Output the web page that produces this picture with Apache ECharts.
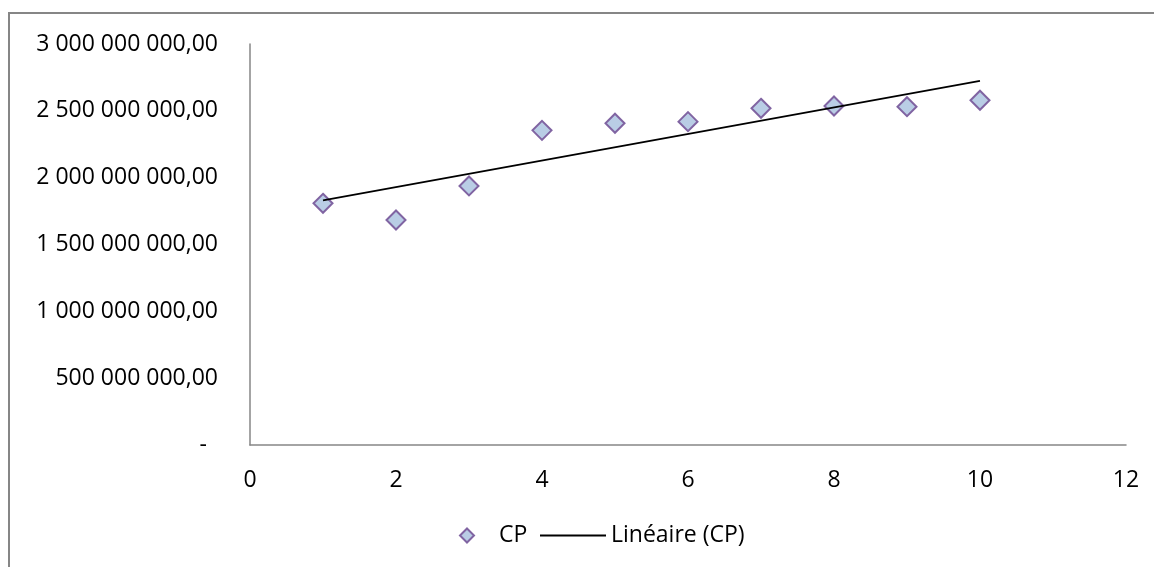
<!DOCTYPE html>
<html>
<head>
<meta charset="utf-8">
<script src="https://cdn.jsdelivr.net/npm/echarts@6/dist/echarts.min.js"></script>
<style>
html,body{margin:0;padding:0;background:#fff;}
#chart{width:1154px;height:567px;}
</style>
</head>
<body>
<div id="chart"></div>
<script>
// Data
const xValues = [1, 2, 3, 4, 5, 6, 7, 8, 9, 10];
const cpValues = [1808000000, 1683000000, 1938000000, 2354000000, 2407000000,
                  2419000000, 2519000000, 2536000000, 2531000000, 2579000000];
const seriesNames = ['CP', 'Linéaire (CP)'];
const xTicks = [0, 2, 4, 6, 8, 10, 12];
const yTicks = [0, 500000000, 1000000000, 1500000000, 2000000000, 2500000000, 3000000000];

// Linear trendline (least squares), as Excel's "Linéaire" trend
const n = xValues.length;
const mx = xValues.reduce((a, b) => a + b, 0) / n;
const my = cpValues.reduce((a, b) => a + b, 0) / n;
let sxy = 0, sxx = 0;
for (let i = 0; i < n; i++) { sxy += (xValues[i] - mx) * (cpValues[i] - my); sxx += (xValues[i] - mx) ** 2; }
const slope = sxy / sxx, intercept = my - slope * mx;
const xFirst = xValues[0], xLast = xValues[n - 1];
const trend = [[xFirst, intercept + slope * xFirst], [xLast, intercept + slope * xLast]];

function fmtY(v) {
  if (v === 0) return '{d|-}';
  const s = Math.round(v).toString().replace(/\B(?=(\d{3})+(?!\d))/g, ' ');
  return s + ',00';
}

const FONT = 'Open Sans';
const chart = echarts.init(document.getElementById('chart'), null, { renderer: 'canvas' });
chart.setOption({
  backgroundColor: '#ffffff',
  animation: false,
  textStyle: { fontFamily: FONT },
  graphic: [{
    type: 'rect', silent: true,
    shape: { x: 9, y: 13, width: 1160, height: 580 },
    style: { fill: 'none', stroke: '#868686', lineWidth: 2 }
  }],
  grid: { left: 250, right: 28, top: 44, bottom: 122, containLabel: false },
  xAxis: {
    type: 'value', min: xTicks[0], max: xTicks[xTicks.length - 1], interval: 2,
    axisLine: { show: true, lineStyle: { color: '#868686', width: 1.5 } },
    axisTick: { show: false },
    splitLine: { show: false },
    axisLabel: { color: '#000', fontSize: 23, fontFamily: FONT, margin: 24 }
  },
  yAxis: {
    type: 'value', min: yTicks[0], max: yTicks[yTicks.length - 1], interval: 500000000,
    axisLine: { show: true, lineStyle: { color: '#868686', width: 1.5 } },
    axisTick: { show: false },
    splitLine: { show: false },
    axisLabel: {
      color: '#000', fontSize: 23, fontFamily: FONT, margin: 32,
      formatter: fmtY,
      rich: { d: { fontSize: 23, fontFamily: FONT, color: '#000', padding: [0, 11, 0, 0] } }
    }
  },
  legend: [{
    data: [seriesNames[0]], icon: 'diamond', itemWidth: 14, itemHeight: 14,
    left: 454, top: 519, itemGap: 0,
    textStyle: { color: '#000', fontSize: 23, fontFamily: FONT, padding: [0, 0, 0, 20] }
  }, {
    data: [seriesNames[1]], icon: 'rect', itemWidth: 66, itemHeight: 2,
    left: 535, top: 519,
    textStyle: { color: '#000', fontSize: 23, fontFamily: FONT, padding: [0, 0, 0, 0] }
  }],
  series: [{
    name: seriesNames[0], type: 'scatter', symbol: 'diamond', symbolSize: 19,
    data: xValues.map((x, i) => [x, cpValues[i]]),
    itemStyle: { color: '#B9CDE5', borderColor: '#8064A2', borderWidth: 2, opacity: 1 },
    z: 3
  }, {
    name: seriesNames[1], type: 'line', data: trend, symbol: 'none',
    lineStyle: { color: '#000', width: 1.75 }, itemStyle: { color: '#000' },
    z: 4
  }]
});
</script>
</body>
</html>
